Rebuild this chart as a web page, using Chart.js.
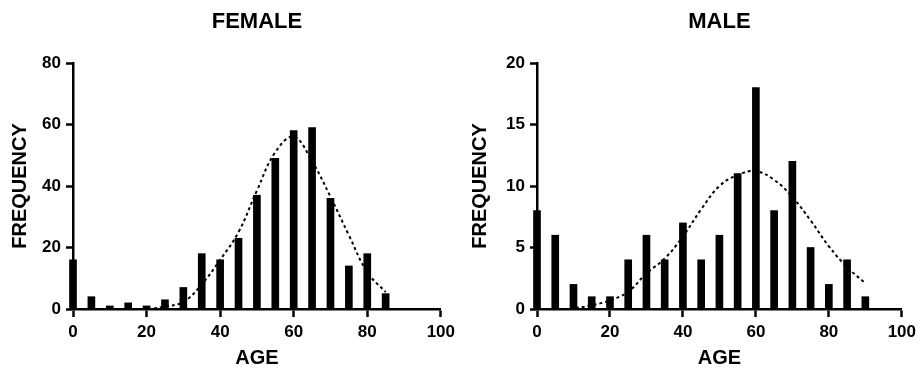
<!DOCTYPE html>
<html>
<head>
<meta charset="utf-8">
<script src="https://cdn.jsdelivr.net/npm/chart.js"></script>
<style>
  body { margin: 0; background: #fff; }
  .row { display: flex; width: 921px; height: 375px; }
  .cell { position: relative; height: 375px; }
</style>
</head>
<body>
<div class="row">
  <div class="cell" style="width:460px"><canvas id="female-chart"></canvas></div>
  <div class="cell" style="width:461px"><canvas id="male-chart"></canvas></div>
</div>
<script>
// bin starts (age) and counts
const femaleAges = [0, 5, 10, 15, 20, 25, 30, 35, 40, 45, 50, 55, 60, 65, 70, 75, 80, 85];
const femaleCounts = [16, 4, 1, 2, 1, 3, 7, 18, 16, 23, 37, 49, 58, 59, 36, 14, 18, 5];

const maleAges = [0, 5, 10, 15, 20, 25, 30, 35, 40, 45, 50, 55, 60, 65, 70, 75, 80, 85, 90];
const maleCounts = [8, 6, 2, 1, 1, 4, 6, 4, 7, 4, 6, 11, 18, 8, 12, 5, 2, 4, 1];

// dotted fit curves, read point by point
const femaleFitAges = [22, 25, 30, 35, 40, 45, 50, 55, 60, 65, 70, 75, 80, 85];
const femaleFitValues = [0.2, 0.8, 2.3, 8, 16, 25, 38.5, 51, 56, 48, 36.5, 24, 12, 5.5];

const maleFitAges = [9, 15, 20, 25, 30, 35, 40, 45, 50, 55, 60, 65, 70, 75, 80, 85, 90];
const maleFitValues = [0, 0.3, 0.7, 1.4, 2.9, 4.1, 5.9, 8.1, 10, 10.9, 11.2, 10.5, 9.1, 7.2, 5.1, 3.4, 2.1];

const xTicks = [0, 20, 40, 60, 80, 100];
const femaleYMax = 80, femaleYStep = 20;
const maleYMax = 20, maleYStep = 5;

const fontFamily = '"Liberation Sans", Arial, sans-serif';

const panelTitle = {
  id: 'panelTitle',
  afterDraw(chart, args, opts) {
    const { ctx, chartArea } = chart;
    ctx.save();
    ctx.font = 'bold 22px ' + fontFamily;
    ctx.fillStyle = '#000';
    ctx.textAlign = 'center';
    ctx.textBaseline = 'middle';
    ctx.fillText(opts.text, (chartArea.left + chartArea.right) / 2, 22);
    ctx.restore();
  }
};

function makeChart(id, title, ages, counts, fitAges, fitValues, yMax, yStep, yWidth, rightPad) {
  const axisGrid = {
    display: true,
    drawOnChartArea: false,
    drawTicks: true,
    offset: false,
    tickLength: 7,
    tickColor: '#000',
    tickWidth: 2.5
  };
  const axisBorder = { display: true, color: '#000', width: 2.5 };
  const tickFont = { family: fontFamily, size: 17, weight: 'bold' };
  const titleFont = { family: fontFamily, size: 20, weight: 'bold' };

  return new Chart(document.getElementById(id), {
    data: {
      datasets: [
        {
          type: 'line',
          data: fitAges.map((a, i) => ({ x: a, y: fitValues[i] })),
          borderColor: '#000',
          borderWidth: 2,
          borderDash: [3, 3],
          pointRadius: 0,
          tension: 0.4,
          fill: false,
          order: 0
        },
        {
          type: 'bar',
          data: ages.map((a, i) => ({ x: a, y: counts[i] })),
          backgroundColor: '#000',
          borderWidth: 0,
          barThickness: 7,
          clip: false,
          order: 1
        }
      ]
    },
    options: {
      responsive: true,
      maintainAspectRatio: false,
      animation: false,
      layout: { padding: { top: 63, right: rightPad, left: 0, bottom: 0 } },
      plugins: {
        legend: { display: false },
        tooltip: { enabled: false },
        panelTitle: { text: title }
      },
      scales: {
        x: {
          type: 'linear',
          min: 0,
          max: 100,
          offset: false,
          afterBuildTicks: (scale) => { scale.ticks = xTicks.map(v => ({ value: v })); },
          afterFit: (scale) => { scale.height = 66; },
          grid: Object.assign({}, axisGrid, { tickLength: 8 }),
          border: axisBorder,
          ticks: { color: '#000', font: tickFont, padding: 5, maxRotation: 0 },
          title: { display: true, text: 'AGE', color: '#000', font: titleFont, padding: { top: 0, bottom: 5 } }
        },
        y: {
          min: 0,
          max: yMax,
          afterFit: (scale) => { scale.width = yWidth; },
          grid: axisGrid,
          border: axisBorder,
          ticks: { stepSize: yStep, color: '#000', font: tickFont, padding: 5 },
          title: { display: true, text: 'FREQUENCY', color: '#000', font: titleFont, padding: { top: 8, bottom: 0 } }
        }
      }
    },
    plugins: [panelTitle]
  });
}

makeChart('female-chart', 'FEMALE', femaleAges, femaleCounts, femaleFitAges, femaleFitValues, femaleYMax, femaleYStep, 73, 19);
makeChart('male-chart', 'MALE', maleAges, maleCounts, maleFitAges, maleFitValues, maleYMax, maleYStep, 77, 16);
</script>
</body>
</html>
